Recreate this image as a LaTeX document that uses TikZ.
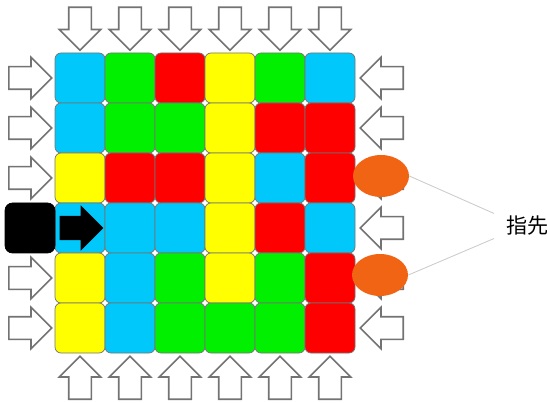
\documentclass[tikz,border=0pt]{standalone}
\usepackage{fontspec}
\newfontfamily\jpfont{Noto Sans CJK JP}
\usetikzlibrary{shapes.arrows, shapes.geometric, positioning}
\definecolor{cellC}{RGB}{0,200,250}
\definecolor{cellG}{RGB}{0,240,0}
\definecolor{cellR}{RGB}{255,0,0}
\definecolor{cellY}{RGB}{255,255,0}
\definecolor{fingerorange}{RGB}{240,100,20}

\begin{document}
\begin{tikzpicture}[x=1cm, y=-1cm,
        cell/.style={draw=black!55, rounded corners=1.2mm, minimum size=1cm, inner sep=0pt},
        push/.style={single arrow, draw=black!55, fill=white, line width=0.9pt, inner sep=0.21cm,
            minimum width=0.8cm, minimum height=0.86cm, single arrow head extend=0.19cm, anchor=tail},
        finger/.style={ellipse, fill=fingerorange, minimum width=1.12cm, minimum height=0.84cm, inner sep=0pt},
        lead/.style={draw=black!20, line width=0.5pt}
    ]
    \useasboundingbox (0,0) rectangle (10.94,8.06);
    % board
    \foreach \row [count=\i] in {{C,G,R,Y,G,C},{C,G,G,Y,R,R},{Y,R,R,Y,C,R},{C,C,C,Y,R,C},{Y,C,G,Y,G,R},{Y,C,G,G,G,R}}
        \foreach \c [count=\j] in \row
            \node[cell, fill=cell\c] (c\i\j) at (0.6+\j, 0.56+\i) {};
    % pushers round the board
    \foreach \j in {1,...,6} {
        \node[push, shape border rotate=270] (top\j) at (0.6+\j, 0.13) {};
        \node[push, shape border rotate=90] (bot\j) at (0.6+\j, 8.0) {};
        \node[push, shape border rotate=180] (rgt\j) at (8.08, 0.56+\j) {};
    }
    \foreach \i in {1,2,3,5,6}
        \node[push] (lft\i) at (0.16, 0.56+\i) {};
    \node[draw, fill=black, rounded corners=1.5mm, minimum size=1cm, inner sep=0pt] (start) at (0.6, 4.56) {};
    \node[push, draw=black, fill=black, minimum height=0.84cm] (go) at (1.19, 4.56) {};
    % fingertips
    \node[finger] (f1) at (7.62, 3.52) {};
    \node[finger] (f2) at (7.6, 5.5) {};
    \node[inner sep=0.24cm, font=\jpfont\fontsize{12}{14}\selectfont] (tip) at (10.55, 4.52) {指先};
    \draw[lead] (f1.east) -- ([yshift=0.25cm]tip.west);
    \draw[lead] (f2.east) -- ([yshift=-0.25cm]tip.west);
\end{tikzpicture}
\end{document}
